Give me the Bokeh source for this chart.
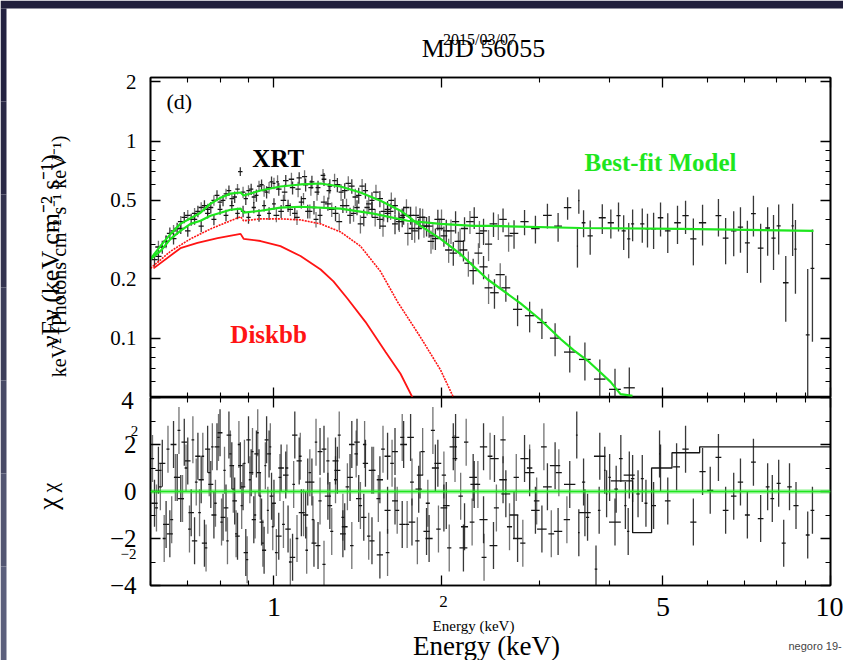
import math
from bokeh.plotting import figure
from bokeh.models import (Range1d, LogAxis, LinearAxis, FixedTicker, Label, Span, GridBox,
                          CustomJSTickFormatter, GlobalInlineStyleSheet)
from bokeh.embed import file_html
from bokeh.resources import INLINE

# ---------------- data ----------------
# spectrum A (soft, disk dominated)  energy [keV], flux, 1-sigma error
spec_a_energy = [0.61, 0.63, 0.65, 0.67, 0.69, 0.71, 0.73, 0.75, 0.77, 0.79,
                 0.81, 0.83, 0.85, 0.87, 0.89, 0.91, 0.93, 0.95, 0.97, 0.99,
                 1.02, 1.05, 1.08, 1.11, 1.14, 1.17, 1.20, 1.23, 1.26, 1.30,
                 1.34, 1.38, 1.42, 1.46, 1.50, 1.55, 1.60, 1.65, 1.70, 1.76,
                 1.82, 1.88, 1.95, 2.02, 2.10, 2.19, 2.28, 2.38, 2.49, 2.61,
                 2.74, 2.88, 3.03, 3.20, 3.40, 3.62, 3.85, 4.10, 4.35]
spec_a_flux = [0.25, 0.29, 0.34, 0.36, 0.41, 0.40, 0.44, 0.47, 0.46, 0.53,
               0.50, 0.56, 0.52, 0.70, 0.51, 0.57, 0.53, 0.60, 0.55, 0.62,
               0.57, 0.63, 0.58, 0.65, 0.60, 0.62, 0.58, 0.64, 0.59, 0.60,
               0.56, 0.59, 0.53, 0.56, 0.50, 0.51, 0.45, 0.47, 0.41, 0.42,
               0.36, 0.37, 0.32, 0.33, 0.27, 0.28, 0.22, 0.23, 0.17, 0.18,
               0.14, 0.13, 0.12, 0.10, 0.085, 0.078, 0.062, 0.055, 0.056]
spec_a_err = [0.020, 0.022, 0.024, 0.025, 0.027, 0.028, 0.029, 0.030, 0.031, 0.032,
              0.033, 0.034, 0.035, 0.036, 0.036, 0.037, 0.038, 0.038, 0.039, 0.040,
              0.042, 0.043, 0.044, 0.045, 0.046, 0.047, 0.048, 0.048, 0.049, 0.050,
              0.050, 0.050, 0.050, 0.050, 0.049, 0.048, 0.047, 0.046, 0.045, 0.044,
              0.043, 0.042, 0.040, 0.039, 0.037, 0.035, 0.033, 0.031, 0.029, 0.027,
              0.025, 0.023, 0.021, 0.019, 0.018, 0.017, 0.016, 0.015, 0.015]
# further spectrum A bins (interleaved)
spec_a2_energy = [0.62, 0.64, 0.66, 0.68, 0.70, 0.72, 0.74, 0.76, 0.78, 0.80,
                  0.82, 0.84, 0.86, 0.88, 0.90, 0.92, 0.94, 0.96, 0.98, 1.00,
                  1.015, 1.045, 1.075, 1.105, 1.135, 1.165, 1.195, 1.225, 1.255, 1.285,
                  1.32, 1.36, 1.40, 1.44, 1.48, 1.525, 1.575, 1.625, 1.675, 1.73,
                  1.79, 1.85, 1.915, 1.985, 2.06, 2.145, 2.235, 2.33, 2.43, 2.55]
spec_a2_flux = [0.29, 0.31, 0.35, 0.39, 0.42, 0.43, 0.46, 0.45, 0.50, 0.49,
                0.54, 0.51, 0.57, 0.55, 0.56, 0.52, 0.59, 0.56, 0.58, 0.61,
                0.62, 0.55, 0.64, 0.57, 0.66, 0.58, 0.55, 0.67, 0.56, 0.63,
                0.55, 0.61, 0.52, 0.59, 0.48, 0.55, 0.44, 0.50, 0.40, 0.46,
                0.35, 0.41, 0.31, 0.36, 0.28, 0.31, 0.24, 0.27, 0.18, 0.21]
spec_a2_err = [0.022, 0.024, 0.025, 0.026, 0.027, 0.028, 0.029, 0.030, 0.031, 0.032,
               0.033, 0.034, 0.035, 0.036, 0.037, 0.037, 0.038, 0.039, 0.040, 0.041,
               0.050, 0.050, 0.050, 0.051, 0.051, 0.052, 0.052, 0.052, 0.053, 0.053,
               0.053, 0.053, 0.052, 0.052, 0.051, 0.050, 0.049, 0.048, 0.047, 0.046,
               0.045, 0.044, 0.042, 0.041, 0.039, 0.037, 0.035, 0.033, 0.031, 0.030]

# spectrum B (with hard power-law tail)
spec_b_energy = [0.62, 0.64, 0.66, 0.68, 0.70, 0.72, 0.74, 0.76, 0.78, 0.80,
                 0.82, 0.84, 0.86, 0.88, 0.90, 0.92, 0.94, 0.96, 0.98, 1.00,
                 1.03, 1.06, 1.09, 1.12, 1.15, 1.18, 1.21, 1.25, 1.29, 1.33,
                 1.37, 1.41, 1.45, 1.50, 1.55, 1.60, 1.65, 1.71, 1.77, 1.83,
                 1.90, 1.97, 2.04, 2.12, 2.20, 2.29, 2.38, 2.48, 2.58, 2.70,
                 2.82, 2.95, 3.10, 3.24,
                 3.37, 3.51, 3.53, 3.60, 3.70, 3.89, 4.03, 4.16, 4.25, 4.34,
                 4.41, 4.59, 4.69, 4.81, 4.95, 5.10, 5.31, 5.49, 5.67, 5.89,
                 6.29, 6.48, 6.70, 6.89, 7.09, 7.27, 7.49, 7.71, 7.90, 8.07,
                 8.31, 8.55, 8.65, 9.10, 9.28]
spec_b_flux = [0.26, 0.31, 0.32, 0.36, 0.35, 0.40, 0.37, 0.43, 0.40, 0.45,
               0.42, 0.47, 0.43, 0.44, 0.41, 0.46, 0.42, 0.47, 0.43, 0.48,
               0.44, 0.47, 0.43, 0.49, 0.44, 0.46, 0.42, 0.48, 0.43, 0.47,
               0.42, 0.46, 0.41, 0.45, 0.40, 0.43, 0.38, 0.42, 0.36, 0.41,
               0.37, 0.40, 0.35, 0.39, 0.36, 0.41, 0.35, 0.38, 0.40, 0.34,
               0.39, 0.36, 0.42, 0.37,
               0.459, 0.293, 0.498, 0.385, 0.330, 0.408, 0.385, 0.418, 0.350, 0.319,
               0.380, 0.380, 0.358, 0.358, 0.408, 0.350, 0.385, 0.418, 0.319, 0.385,
               0.418, 0.322, 0.350, 0.366, 0.304, 0.428, 0.286, 0.362, 0.322, 0.371,
               0.191, 0.371, 0.283, 0.104, 0.226]
spec_b_err = [0.018, 0.020, 0.021, 0.022, 0.023, 0.024, 0.025, 0.026, 0.026, 0.027,
              0.028, 0.028, 0.029, 0.029, 0.030, 0.030, 0.031, 0.031, 0.032, 0.032,
              0.033, 0.034, 0.034, 0.035, 0.035, 0.036, 0.036, 0.037, 0.038, 0.038,
              0.039, 0.040, 0.040, 0.041, 0.042, 0.043, 0.043, 0.044, 0.045, 0.046,
              0.047, 0.048, 0.049, 0.050, 0.051, 0.052, 0.053, 0.054, 0.055, 0.056,
              0.057, 0.058, 0.060, 0.062,
              0.060, 0.065, 0.070, 0.060, 0.065, 0.070, 0.065, 0.070, 0.070, 0.065,
              0.070, 0.075, 0.070, 0.075, 0.080, 0.080, 0.085, 0.080, 0.085, 0.090,
              0.090, 0.085, 0.090, 0.095, 0.090, 0.100, 0.095, 0.100, 0.100, 0.105,
              0.070, 0.110, 0.115, 0.120, 0.130]
# further spectrum B bins (interleaved)
spec_b2_energy = [1.01, 1.04, 1.07, 1.10, 1.13, 1.16, 1.19, 1.23, 1.27, 1.31,
                  1.35, 1.39, 1.43, 1.47, 1.52, 1.57, 1.62, 1.68, 1.74, 1.80,
                  1.86, 1.93, 2.00, 2.08, 2.16, 2.25, 2.34, 2.43, 2.53, 2.64]
spec_b2_flux = [0.42, 0.50, 0.45, 0.41, 0.51, 0.44, 0.40, 0.49, 0.45, 0.39,
                0.47, 0.43, 0.38, 0.46, 0.41, 0.37, 0.44, 0.39, 0.34, 0.42,
                0.37, 0.33, 0.40, 0.35, 0.31, 0.39, 0.34, 0.30, 0.37, 0.33]
spec_b2_err = [0.033, 0.034, 0.034, 0.035, 0.035, 0.036, 0.036, 0.037, 0.038, 0.038,
               0.039, 0.040, 0.040, 0.041, 0.042, 0.043, 0.043, 0.044, 0.045, 0.046,
               0.047, 0.048, 0.049, 0.050, 0.051, 0.052, 0.053, 0.054, 0.055, 0.056]

# best-fit models
model_a_energy = [0.600, 0.625, 0.652, 0.679, 0.738, 0.769, 0.802, 0.835, 0.871, 0.882,
                  0.946, 1.027, 1.116, 1.213, 1.317, 1.430, 1.554, 1.688, 1.834, 1.992,
                  2.164, 2.419, 2.774, 3.012, 3.273, 3.454, 3.659, 3.862, 4.025, 4.195, 4.408]
model_a_flux = [0.252, 0.293, 0.338, 0.380, 0.433, 0.481, 0.516, 0.541, 0.548, 0.529,
                0.561, 0.588, 0.602, 0.609, 0.588, 0.548, 0.498, 0.443, 0.371, 0.319,
                0.267, 0.199, 0.150, 0.124, 0.099, 0.087, 0.077, 0.067, 0.060, 0.052, 0.051]
model_b_energy = [0.600, 0.625, 0.652, 0.679, 0.708, 0.738, 0.769, 0.802, 0.835, 0.871,
                  0.882, 0.946, 1.027, 1.116, 1.317, 1.509, 1.738, 1.992, 2.283, 2.450,
                  3.555, 5.378, 9.32]
model_b_flux = [0.252, 0.276, 0.319, 0.350, 0.380, 0.394, 0.418, 0.433, 0.448, 0.454,
                0.433, 0.443, 0.459, 0.464, 0.454, 0.428, 0.394, 0.380, 0.371, 0.371,
                0.362, 0.358, 0.350]

# diskbb components
disk_a_energy = [0.600, 0.652, 0.708, 0.769, 0.835, 0.871, 0.882, 0.946, 1.027, 1.116,
                 1.213, 1.317, 1.430, 1.554, 1.667, 1.834, 1.992, 2.102]
disk_a_flux = [0.226, 0.276, 0.319, 0.358, 0.394, 0.413, 0.394, 0.403, 0.403, 0.398,
               0.380, 0.346, 0.293, 0.218, 0.153, 0.101, 0.069, 0.050]
disk_b_energy = [0.6075, 0.679, 0.7288, 0.792, 0.871, 0.882, 0.946, 1.027, 1.116, 1.213,
                 1.279, 1.355, 1.460, 1.587, 1.688, 1.774]
disk_b_flux = [0.226, 0.286, 0.304, 0.322, 0.338, 0.319, 0.311, 0.293, 0.261, 0.223,
               0.194, 0.159, 0.121, 0.085, 0.066, 0.050]

# residuals (chi)
chi_a = [-0.5, 1.2, -1.8, 0.6, 2.1, -0.9, 1.5, -2.2, 0.3, 1.9,
         -1.1, 2.4, -0.4, 1.1, -2.6, 0.8, 1.6, -1.3, 2.2, -0.2,
         -1.9, 0.7, -2.8, 1.3, -1.0, 0.4, -2.3, 1.8, -0.6, 0.9,
         -1.5, 2.0, -0.3, 1.2, -2.1, 0.5, -0.8, 1.7, -1.4, 2.3,
         0.1, -1.7, 1.0, -0.7, 1.9, -2.4, 0.6, -1.2, 1.4, -0.1,
         -2.0, 0.8, -1.6, 1.1, 0.3, -0.9, 1.5, -1.3, 0.7]
chi_b_low = [0.9, -1.4, 2.0, -0.3, 1.3, -2.1, 0.5, 1.8, -1.0, 2.5,
             -0.7, 1.1, -1.9, 0.2, 2.2, -1.2, 0.8, -2.5, 1.6, -0.5,
             1.0, -1.6, 2.4, -0.9, 0.4, -2.2, 1.7, -0.2, 1.3, -1.8,
             0.6, 2.1, -1.1, 0.9, -2.7, 1.5, -0.4, 2.0, -1.3, 0.7,
             -2.0, 1.2, -0.6, 2.3, -1.5, 0.3, 1.9, -2.3, 0.5, -1.0,
             1.4, -0.8, 0.2, -1.7]
res_mid_energy = [0.605, 0.615, 0.625, 0.635, 0.645, 0.655, 0.665, 0.675, 0.685, 0.695,
                  0.705, 0.715, 0.725, 0.735, 0.745, 0.755, 0.765, 0.775, 0.785, 0.795,
                  0.805, 0.815, 0.825, 0.835, 0.845, 0.855, 0.865, 0.875, 0.885, 0.895,
                  0.905, 0.915, 0.925, 0.935, 0.945, 0.955, 0.965, 0.975, 0.985, 0.995,
                  1.010, 1.025, 1.040, 1.055, 1.070, 1.085, 1.100, 1.115, 1.130, 1.145,
                  1.160, 1.175, 1.190, 1.210, 1.230, 1.250, 1.270, 1.290, 1.310, 1.330,
                  1.355, 1.380, 1.405, 1.430, 1.455, 1.480, 1.510, 1.540, 1.570, 1.600,
                  1.630, 1.665, 1.700, 1.735, 1.770, 1.810, 1.850, 1.890, 1.930, 1.975,
                  2.020, 2.065, 2.115, 2.165, 2.215, 2.270, 2.325, 2.385, 2.445, 2.510,
                  2.580, 2.650, 2.725, 2.800, 2.880, 2.965, 3.055, 3.150, 3.250, 3.360]
res_mid_chi = [1.4, -0.7, 0.2, -2.0, 1.8, -1.2, 0.6, 2.6, -0.3, 1.0,
               -1.6, 2.2, 0.4, -0.9, 1.5, -2.4, 0.8, 1.9, -0.5, 2.3,
               -1.3, 0.9, -2.1, 1.6, 0.1, -1.8, 2.0, -0.6, 1.2, -2.9,
               0.5, 1.7, -1.0, 2.5, -0.2, -2.2, 1.1, -0.8, 1.9, -1.5,
               -2.6, 0.6, -1.4, 1.0, -3.0, 0.3, -2.0, 1.5, -0.9, -2.5,
               0.8, -1.2, 2.1, -0.4, -3.1, 1.3, -1.7, 0.5, 2.4, -1.1,
               0.2, -2.3, 1.6, -0.6, 2.0, -1.9, 0.9, -0.3, 1.8, -2.6,
               1.2, -0.8, 2.3, -1.4, 0.4, -2.1, 1.7, -0.5, 2.6, -1.6,
               0.7, -2.4, 1.4, -0.2, 2.1, -1.3, 0.3, -2.8, 1.5, -0.7,
               2.2, -1.5, 0.6, -2.2, 1.0, -0.4, 1.9, -1.8, 0.8, -1.2]
res_hi_energy = [3.50, 3.53, 3.60, 3.66, 3.79, 3.84, 3.93, 3.96, 4.01, 4.12,
                 4.20, 4.28, 4.33, 4.41, 4.51, 4.59, 4.66, 4.81, 4.93, 4.95,
                 5.10, 5.29, 5.49, 5.67, 5.89, 6.08, 6.29, 6.48, 6.70, 6.89,
                 7.09, 7.27, 7.49, 7.71, 7.86, 8.07, 8.24, 8.44, 8.67, 9.10, 9.28]
res_hi_chi = [2.4, -1.75, 0.4, -1.1, -3.3, -0.8, 0.9, -0.1, 0.6, 0.1,
              1.4, -0.6, -1.7, 0.55, -0.1, 0.55, -0.5, -0.6, 1.6, 1.0,
              -0.4, 1.05, 1.8, -1.3, 0.85, 0.05, 1.45, -0.8, -0.2, 0.4,
              -1.0, 1.25, -1.15, 0.2, -0.3, 0.35, -2.2, 0.2, -0.6, -1.85, -0.8]
res_step_edges = [4.03, 4.41, 4.77, 5.19, 5.82, 10.0]
res_step_chi = [0.45, -1.75, 1.0, 1.65, 1.9, 1.9]

x_ticks = [1, 2, 5, 10]
x_minor = [0.6, 0.7, 0.8, 0.9, 3, 4, 6, 7, 8, 9]
flux_ticks = [0.1, 0.2, 0.5, 1, 2]
flux_minor = [0.06, 0.07, 0.08, 0.09, 0.3, 0.4, 0.6, 0.7, 0.8, 0.9]
chi_ticks = [-4, -2, 0, 2, 4]
chi_minor = [-3, -1, 1, 3]

# slide background pieces (page pixels): header band and left strip shades
band_edges = [0, 8]
strip_edges = [8, 101, 194, 287, 380, 473, 566, 660]
strip_colors = ["#232140", "#2a2946", "#33334f", "#3d3e5a", "#484a66", "#535672", "#5b5f7c"]

# ---------------- styling ----------------
SERIF = "Liberation Serif"
GREEN = "#1ee61e"
RED = "#ff1414"
INK = "#151515"
W, H = 843, 660
TOP_H = 397


def half_widths(e):
    out = []
    for i in range(len(e)):
        gaps = []
        if i > 0:
            gaps.append(abs(e[i] - e[i - 1]))
        if i < len(e) - 1:
            gaps.append(abs(e[i + 1] - e[i]))
        out.append(0.4 * min(gaps))
    return out


def crosses(fig, e, v, err, floor, alpha=0.85):
    d = half_widths(e)
    fig.segment(x0=e, y0=[max(a - s, floor) for a, s in zip(v, err)], x1=e,
                y1=[a + s for a, s in zip(v, err)], line_color=INK, line_width=1.3,
                line_alpha=alpha)
    fig.segment(x0=[a - s for a, s in zip(e, d)], y0=v, x1=[a + s for a, s in zip(e, d)], y1=v,
                line_color=INK, line_width=1.3)


def style_axis(ax, show=True, size="20px", standoff=6):
    ax.major_tick_in = 10
    ax.major_tick_out = 0
    ax.minor_tick_in = 5
    ax.minor_tick_out = 0
    ax.axis_line_width = 1.6
    ax.axis_line_color = "black"
    ax.major_tick_line_width = 1.3
    ax.minor_tick_line_width = 1.1
    ax.major_label_text_font = SERIF
    ax.major_label_text_color = "black"
    if show:
        ax.major_label_text_font_size = size
        ax.major_label_standoff = standoff
    else:
        ax.formatter = CustomJSTickFormatter(code="return ''")
        ax.major_label_text_font_size = "0px"
        ax.major_label_standoff = 0


def lab(fig, x, y, text, size, color="black", bold=False, angle=0.0, align="center",
        font=SERIF):
    fig.add_layout(Label(x=x, y=y, text=text, text_font=font, text_font_size=size,
                         text_color=color, text_font_style="bold" if bold else "normal",
                         text_align=align, text_baseline="middle", angle=angle))


x_range = Range1d(0.6, 10)

# ---------------- upper panel ----------------
top = figure(width=W, height=TOP_H, x_axis_type="log", y_axis_type="log",
             x_range=x_range, y_range=Range1d(0.05, 2.1),
             output_backend="svg", toolbar_location=None,
             min_border_left=150, min_border_right=13, min_border_top=77, min_border_bottom=0)
top.grid.visible = False
top.outline_line_color = "black"
top.outline_line_width = 1.6
top.border_fill_color = "white"

top.xaxis.ticker = FixedTicker(ticks=x_ticks, minor_ticks=x_minor)
style_axis(top.xaxis[0], show=False)
top.yaxis.ticker = FixedTicker(ticks=flux_ticks, minor_ticks=flux_minor)
style_axis(top.yaxis[0], show=True, size="21px", standoff=14)
top.yaxis.major_label_overrides = {t: ("%g" % t) for t in flux_ticks}
ax_t = LogAxis(ticker=FixedTicker(ticks=x_ticks, minor_ticks=x_minor))
style_axis(ax_t, show=False)
top.add_layout(ax_t, "above")
ax_r = LogAxis(ticker=FixedTicker(ticks=flux_ticks, minor_ticks=flux_minor))
style_axis(ax_r, show=False)
top.add_layout(ax_r, "right")

crosses(top, spec_a_energy, spec_a_flux, spec_a_err, 0.01)
crosses(top, spec_a2_energy, spec_a2_flux, spec_a2_err, 0.01, alpha=0.6)
crosses(top, spec_b_energy, spec_b_flux, spec_b_err, 0.01)
crosses(top, spec_b2_energy, spec_b2_flux, spec_b2_err, 0.01, alpha=0.6)
top.line(disk_a_energy, disk_a_flux, line_color=RED, line_width=1.6, line_dash="2 1")
top.line(disk_b_energy, disk_b_flux, line_color=RED, line_width=1.8)
top.line(model_a_energy, model_a_flux, line_color=GREEN, line_width=2.2)
top.line(model_b_energy, model_b_flux, line_color=GREEN, line_width=2.2)

lab(top, 0.641, 1.58, "(d)", "22px", align="left")
lab(top, 1.018, 0.818, "XRT", "25px", bold=True)
lab(top, 4.95, 0.780, "Best-fit Model", "25px", color=GREEN, bold=True)
lab(top, 0.978, 0.104, "Diskbb", "25px", color=RED, bold=True)

# ---------------- residual panel ----------------
bot = figure(width=W, height=H - TOP_H, x_axis_type="log",
             x_range=x_range, y_range=Range1d(-4.0, 4.0),
             output_backend="svg", toolbar_location=None,
             min_border_left=150, min_border_right=13, min_border_top=0, min_border_bottom=75)
bot.grid.visible = False
bot.outline_line_color = "black"
bot.outline_line_width = 1.6
bot.border_fill_color = "white"

bot.xaxis.ticker = FixedTicker(ticks=x_ticks, minor_ticks=x_minor)
style_axis(bot.xaxis[0], show=True, size="28px", standoff=12)
bot.xaxis.major_label_overrides = {1: "1", 2: "", 5: "5", 10: "10"}
bot.yaxis.ticker = FixedTicker(ticks=chi_ticks, minor_ticks=chi_minor)
style_axis(bot.yaxis[0], show=True, size="25px", standoff=14)
bot.yaxis.major_label_overrides = {-4: "\u22124", -2: "\u22122", 0: "0", 2: "2", 4: ""}
bx_t = LogAxis(ticker=FixedTicker(ticks=x_ticks, minor_ticks=x_minor))
style_axis(bx_t, show=False)
bot.add_layout(bx_t, "above")
by_r = LinearAxis(ticker=FixedTicker(ticks=chi_ticks, minor_ticks=chi_minor))
style_axis(by_r, show=False)
bot.add_layout(by_r, "right")

crosses(bot, spec_a_energy, chi_a, [1.0 for _ in chi_a], -10)
crosses(bot, spec_b_energy[:len(chi_b_low)], chi_b_low, [1.0 for _ in chi_b_low], -10)
crosses(bot, res_mid_energy, res_mid_chi, [1.0 for _ in res_mid_chi], -10, alpha=0.6)
crosses(bot, res_hi_energy, res_hi_chi, [1.0 for _ in res_hi_chi], -10)
bot.step(res_step_edges, res_step_chi, mode="after", line_color=INK, line_width=1.3)
bot.add_layout(Span(location=0, dimension="width", line_color=GREEN, line_width=4, line_alpha=0.55))
bot.add_layout(Span(location=0, dimension="width", line_color=GREEN, line_width=1.2))

# ---------------- text overlay (page pixel coordinates, y downwards) ----------------
ov = figure(width=W, height=H, x_range=Range1d(0, W), y_range=Range1d(H, 0),
            output_backend="svg", toolbar_location=None,
            x_axis_location=None, y_axis_location=None,
            min_border_left=0, min_border_right=0, min_border_top=0, min_border_bottom=0)
ov.frame_align = False
ov.grid.visible = False
ov.outline_line_color = None
ov.background_fill_color = None
ov.border_fill_color = None

ov.quad(left=[0], right=[W], top=[band_edges[0]], bottom=[band_edges[1]],
        fill_color="#211f3c", line_color=None)
ov.quad(left=[0 for _ in strip_colors], right=[6 for _ in strip_colors],
        top=strip_edges[:-1], bottom=strip_edges[1:], fill_color=strip_colors, line_color=None)

lab(ov, 483, 48, "MJD 56055", "26px")
lab(ov, 479, 39, "2015/03/07", "16px")
lab(ov, 58, 256, "keV\u00b2 (Photons cm\u207b\u00b2 s\u207b\u00b9 keV\u207b\u00b9)", "20px",
    angle=math.pi / 2)
lab(ov, 50, 250, "\u03bdF\u03bd (keV cm\u207b\u00b2 s\u207b\u00b9)", "26px", angle=math.pi / 2)
lab(ov, 47, 503, "\u03c7", "28px", angle=math.pi / 2)
lab(ov, 49, 487, "\u03c7", "22px", angle=math.pi / 2)
lab(ov, 127, 400, "4", "25px")
lab(ov, 134, 430, "2", "15px")
lab(ov, 128, 553, "\u22122", "15px")
lab(ov, 443, 601, "2", "17px")
lab(ov, 473, 625, "Energy (keV)", "15px")
lab(ov, 486, 645, "Energy (keV)", "27px")
lab(ov, 788, 645, "negoro 19-", "11px", color="#444444", align="left", font="Liberation Sans")

grid = GridBox(children=[(top, 0, 0), (bot, 1, 0), (ov, 0, 0, 2, 1)], width=W, height=H,
               stylesheets=[GlobalInlineStyleSheet(css="html, body { overflow: hidden; }")])
open("out.html", "w").write(file_html(grid, INLINE))
